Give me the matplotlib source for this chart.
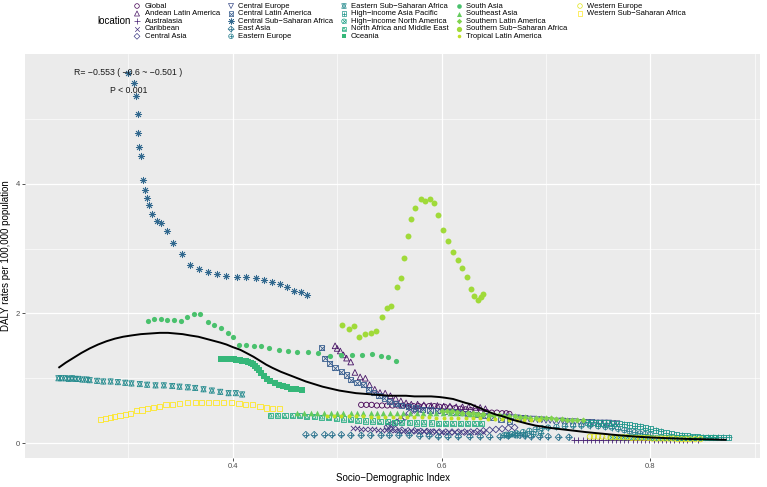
import matplotlib
matplotlib.use('Agg')
import matplotlib.pyplot as plt
import numpy as np

plt.rcParams['font.family'] = ['Liberation Sans', 'DejaVu Sans']

# ---- data ----
locations = ['Global', 'Andean Latin America', 'Australasia', 'Caribbean', 'Central Asia',
             'Central Europe', 'Central Latin America', 'Central Sub\u2212Saharan Africa', 'East Asia',
             'Eastern Europe', 'Eastern Sub\u2212Saharan Africa', 'High\u2212income Asia Pacific',
             'High\u2212income North America', 'North Africa and Middle East', 'Oceania', 'South Asia',
             'Southeast Asia', 'Southern Latin America', 'Southern Sub\u2212Saharan Africa',
             'Tropical Latin America', 'Western Europe', 'Western Sub\u2212Saharan Africa']

global_x = [0.523, 0.528, 0.533, 0.538, 0.543, 0.548, 0.553, 0.558, 0.563, 0.568, 0.573, 0.578, 0.583, 0.588, 0.593,
            0.598, 0.603, 0.608, 0.613, 0.618, 0.623, 0.628, 0.633, 0.638, 0.643, 0.648, 0.653, 0.658, 0.662, 0.665]
global_y = [0.59, 0.59, 0.59, 0.58, 0.58, 0.58, 0.58, 0.58, 0.58, 0.57, 0.57, 0.57, 0.57, 0.57, 0.57,
            0.56, 0.56, 0.55, 0.54, 0.53, 0.52, 0.51, 0.50, 0.49, 0.48, 0.47, 0.47, 0.46, 0.46, 0.45]

andean_x = [0.498, 0.500, 0.503, 0.506, 0.509, 0.513, 0.517, 0.522, 0.527, 0.531, 0.536, 0.541, 0.546, 0.551, 0.556,
            0.561, 0.566, 0.571, 0.577, 0.583, 0.590, 0.596, 0.602, 0.608, 0.614, 0.620, 0.626, 0.632, 0.637, 0.642]
andean_y = [1.50, 1.46, 1.42, 1.36, 1.31, 1.25, 1.09, 1.02, 1.00, 0.90, 0.83, 0.78, 0.77, 0.73, 0.69,
            0.65, 0.62, 0.60, 0.60, 0.59, 0.58, 0.58, 0.57, 0.57, 0.56, 0.56, 0.56, 0.55, 0.55, 0.53]

australasia_x = [0.727, 0.731, 0.735, 0.739, 0.743, 0.747, 0.751, 0.755, 0.759, 0.763, 0.767, 0.771, 0.775, 0.779, 0.783,
                 0.787, 0.791, 0.795, 0.799, 0.803, 0.807, 0.811, 0.815, 0.819, 0.823, 0.827, 0.831, 0.835, 0.840, 0.846]
australasia_y = [0.05, 0.05, 0.05, 0.05, 0.05, 0.05, 0.05, 0.05, 0.05, 0.05, 0.05, 0.05, 0.05, 0.05, 0.05,
                 0.04, 0.04, 0.04, 0.04, 0.04, 0.04, 0.04, 0.04, 0.04, 0.04, 0.04, 0.04, 0.04, 0.04, 0.04]

caribbean_x = [0.515, 0.519, 0.523, 0.527, 0.531, 0.535, 0.539, 0.543, 0.547, 0.551, 0.555, 0.559, 0.563, 0.567, 0.571,
               0.575, 0.579, 0.583, 0.587, 0.591, 0.595, 0.599, 0.603, 0.607, 0.612, 0.617, 0.622, 0.628, 0.634, 0.640]
caribbean_y = [0.24, 0.23, 0.22, 0.22, 0.21, 0.21, 0.20, 0.20, 0.20, 0.20, 0.20, 0.19, 0.19, 0.19, 0.19,
               0.19, 0.18, 0.18, 0.18, 0.18, 0.18, 0.17, 0.17, 0.17, 0.17, 0.17, 0.17, 0.17, 0.17, 0.17]

central_asia_x = [0.578, 0.574, 0.569, 0.565, 0.561, 0.557, 0.553, 0.550, 0.548, 0.551, 0.556, 0.562, 0.568, 0.574, 0.580,
                  0.586, 0.592, 0.598, 0.604, 0.610, 0.616, 0.622, 0.628, 0.634, 0.640, 0.646, 0.652, 0.658, 0.664, 0.670]
central_asia_y = [0.52, 0.51, 0.46, 0.40, 0.36, 0.32, 0.29, 0.27, 0.25, 0.22, 0.21, 0.20, 0.19, 0.19, 0.18,
                  0.18, 0.17, 0.17, 0.17, 0.17, 0.17, 0.17, 0.17, 0.18, 0.19, 0.20, 0.21, 0.22, 0.23, 0.24]

central_europe_x = [0.660, 0.664, 0.668, 0.672, 0.676, 0.680, 0.684, 0.688, 0.692, 0.696, 0.700, 0.704, 0.708, 0.712,
                    0.716, 0.720, 0.724, 0.728, 0.732, 0.736, 0.740, 0.744, 0.748, 0.752, 0.756, 0.760, 0.764, 0.768]
central_europe_y = [0.40, 0.40, 0.39, 0.39, 0.38, 0.38, 0.37, 0.37, 0.36, 0.36, 0.35, 0.35, 0.34, 0.34,
                    0.34, 0.33, 0.33, 0.33, 0.32, 0.32, 0.32, 0.32, 0.31, 0.31, 0.31, 0.31, 0.30, 0.30]

central_la_x = [0.485, 0.488, 0.493, 0.498, 0.504, 0.509, 0.513, 0.519, 0.525, 0.530, 0.535, 0.540, 0.545, 0.550, 0.556,
                0.562, 0.568, 0.575, 0.582, 0.589, 0.596, 0.603, 0.610, 0.617, 0.625, 0.633, 0.641, 0.649, 0.657, 0.665]
central_la_y = [1.47, 1.31, 1.23, 1.16, 1.10, 1.05, 0.98, 0.93, 0.90, 0.83, 0.78, 0.73, 0.69, 0.64, 0.61,
                0.58, 0.56, 0.54, 0.52, 0.51, 0.50, 0.49, 0.48, 0.47, 0.46, 0.44, 0.42, 0.40, 0.37, 0.34]

central_ssa_x = [0.300, 0.305, 0.307, 0.309, 0.309, 0.310, 0.312, 0.314, 0.316, 0.318, 0.320, 0.323, 0.327, 0.331, 0.337,
                 0.343, 0.351, 0.359, 0.368, 0.376, 0.385, 0.394, 0.404, 0.413, 0.422, 0.430, 0.438, 0.445, 0.452, 0.459,
                 0.465, 0.471]
central_ssa_y = [5.71, 5.56, 5.36, 5.07, 4.78, 4.56, 4.42, 4.06, 3.91, 3.78, 3.67, 3.54, 3.43, 3.39, 3.27,
                 3.09, 2.92, 2.75, 2.69, 2.64, 2.60, 2.58, 2.56, 2.56, 2.55, 2.51, 2.48, 2.45, 2.40, 2.35,
                 2.33, 2.29]

east_asia_x = [0.470, 0.478, 0.488, 0.495, 0.504, 0.513, 0.523, 0.532, 0.542, 0.550, 0.559, 0.569, 0.579, 0.588, 0.597,
               0.606, 0.616, 0.627, 0.637, 0.646, 0.656, 0.664, 0.670, 0.675, 0.680, 0.686, 0.694, 0.702, 0.712, 0.722]
east_asia_y = [0.13, 0.13, 0.13, 0.13, 0.13, 0.12, 0.12, 0.12, 0.12, 0.12, 0.12, 0.12, 0.11, 0.11, 0.10,
               0.10, 0.10, 0.10, 0.10, 0.10, 0.10, 0.11, 0.13, 0.12, 0.11, 0.10, 0.10, 0.10, 0.09, 0.09]

eastern_europe_x = [0.695, 0.688, 0.680, 0.672, 0.665, 0.660, 0.662, 0.667, 0.672, 0.678, 0.684, 0.690, 0.696, 0.702,
                    0.710, 0.718, 0.726, 0.734, 0.742, 0.750, 0.757, 0.763, 0.769, 0.775, 0.780, 0.785, 0.790, 0.795,
                    0.800]
eastern_europe_y = [0.15, 0.14, 0.13, 0.12, 0.12, 0.12, 0.13, 0.14, 0.15, 0.17, 0.19, 0.21, 0.23, 0.24,
                    0.25, 0.26, 0.27, 0.27, 0.27, 0.26, 0.25, 0.24, 0.22, 0.20, 0.18, 0.17, 0.15, 0.14,
                    0.13]

eastern_ssa_x = [0.233, 0.236, 0.240, 0.243, 0.246, 0.249, 0.252, 0.256, 0.260, 0.263, 0.270, 0.276, 0.283, 0.290, 0.297,
                 0.303, 0.311, 0.318, 0.326, 0.334, 0.342, 0.349, 0.357, 0.364, 0.372, 0.380, 0.388, 0.396, 0.403, 0.409]
eastern_ssa_y = [1.00, 1.00, 1.00, 0.99, 1.00, 0.99, 0.99, 0.98, 0.98, 0.97, 0.96, 0.95, 0.95, 0.94, 0.93,
                 0.92, 0.91, 0.90, 0.89, 0.89, 0.88, 0.87, 0.86, 0.85, 0.83, 0.81, 0.79, 0.77, 0.77, 0.75]

hi_asia_pacific_x = [0.740, 0.745, 0.750, 0.755, 0.760, 0.765, 0.770, 0.775, 0.780, 0.785, 0.790, 0.795, 0.800, 0.805,
                     0.810, 0.815, 0.820, 0.825, 0.830, 0.835, 0.840, 0.845, 0.850, 0.855, 0.860, 0.865, 0.870, 0.875]
hi_asia_pacific_y = [0.32, 0.32, 0.31, 0.31, 0.31, 0.30, 0.30, 0.29, 0.28, 0.27, 0.26, 0.24, 0.22, 0.20,
                     0.18, 0.16, 0.14, 0.13, 0.12, 0.11, 0.10, 0.10, 0.09, 0.09, 0.09, 0.09, 0.09, 0.09]

hi_north_america_x = [0.762, 0.766, 0.770, 0.774, 0.778, 0.782, 0.786, 0.790, 0.794, 0.798, 0.802, 0.806, 0.810,
                      0.814, 0.818, 0.822, 0.826, 0.830, 0.834, 0.838, 0.842, 0.846, 0.850, 0.854, 0.858, 0.862]
hi_north_america_y = [0.09, 0.09, 0.09, 0.09, 0.09, 0.09, 0.09, 0.09, 0.09, 0.09, 0.08, 0.08, 0.08,
                      0.08, 0.08, 0.08, 0.08, 0.08, 0.08, 0.08, 0.08, 0.08, 0.08, 0.08, 0.08, 0.08]

name_x = [0.436, 0.443, 0.450, 0.457, 0.464, 0.471, 0.478, 0.485, 0.492, 0.499, 0.506, 0.513, 0.520, 0.527, 0.534,
          0.541, 0.548, 0.555, 0.562, 0.569, 0.576, 0.583, 0.590, 0.597, 0.604, 0.611, 0.618, 0.625, 0.632, 0.638]
name_y = [0.43, 0.43, 0.42, 0.42, 0.42, 0.41, 0.41, 0.40, 0.39, 0.38, 0.37, 0.36, 0.35, 0.34, 0.34,
          0.33, 0.33, 0.32, 0.32, 0.32, 0.31, 0.31, 0.31, 0.30, 0.30, 0.30, 0.30, 0.30, 0.30, 0.30]

oceania_x = [0.389, 0.391, 0.393, 0.395, 0.397, 0.399, 0.401, 0.403, 0.405, 0.407, 0.409, 0.411, 0.413, 0.415, 0.417,
             0.419, 0.421, 0.423, 0.425, 0.427, 0.430, 0.433, 0.436, 0.440, 0.444, 0.448, 0.452, 0.456, 0.461, 0.466]
oceania_y = [1.30, 1.30, 1.30, 1.30, 1.29, 1.29, 1.29, 1.28, 1.28, 1.28, 1.27, 1.27, 1.26, 1.25, 1.24,
             1.22, 1.19, 1.16, 1.12, 1.08, 1.03, 0.99, 0.95, 0.92, 0.90, 0.88, 0.86, 0.84, 0.83, 0.82]

south_asia_x = [0.319, 0.325, 0.331, 0.337, 0.344, 0.350, 0.356, 0.363, 0.369, 0.376, 0.382, 0.389, 0.395, 0.400,
                0.406, 0.413, 0.420, 0.427, 0.435, 0.444, 0.453, 0.462, 0.472, 0.482, 0.493, 0.504, 0.514, 0.524,
                0.533, 0.542, 0.549, 0.556]
south_asia_y = [1.88, 1.91, 1.92, 1.90, 1.90, 1.89, 1.94, 1.99, 1.99, 1.87, 1.82, 1.77, 1.70, 1.63,
                1.51, 1.51, 1.50, 1.49, 1.46, 1.44, 1.42, 1.41, 1.40, 1.39, 1.35, 1.36, 1.36, 1.36,
                1.37, 1.34, 1.32, 1.27]

southeast_asia_x = [0.462, 0.468, 0.475, 0.481, 0.487, 0.494, 0.500, 0.506, 0.513, 0.519, 0.525, 0.532, 0.538, 0.544,
                    0.551, 0.557, 0.563, 0.570, 0.576, 0.582, 0.589, 0.595, 0.601, 0.608, 0.614, 0.620, 0.627, 0.633,
                    0.639, 0.645]
southeast_asia_y = [0.46, 0.46, 0.46, 0.47, 0.47, 0.46, 0.47, 0.47, 0.47, 0.47, 0.46, 0.47, 0.47, 0.47,
                    0.47, 0.47, 0.46, 0.46, 0.47, 0.47, 0.47, 0.46, 0.46, 0.46, 0.46, 0.46, 0.45, 0.45,
                    0.45, 0.45]

southern_la_x = [0.600, 0.605, 0.610, 0.615, 0.620, 0.625, 0.630, 0.635, 0.640, 0.645, 0.650, 0.655, 0.660, 0.665,
                 0.670, 0.675, 0.680, 0.685, 0.690, 0.695, 0.700, 0.705, 0.710, 0.715, 0.720, 0.725, 0.730, 0.735]
southern_la_y = [0.50, 0.49, 0.49, 0.48, 0.47, 0.47, 0.46, 0.45, 0.45, 0.44, 0.43, 0.43, 0.42, 0.41,
                 0.41, 0.40, 0.40, 0.39, 0.39, 0.38, 0.38, 0.38, 0.37, 0.37, 0.36, 0.36, 0.36, 0.35]

southern_ssa_x = [0.505, 0.511, 0.516, 0.521, 0.527, 0.532, 0.537, 0.543, 0.548, 0.552, 0.557, 0.561, 0.564, 0.568,
                  0.571, 0.575, 0.580, 0.584, 0.589, 0.593, 0.597, 0.601, 0.606, 0.611, 0.616, 0.620, 0.624, 0.628,
                  0.631, 0.635, 0.638, 0.640]
southern_ssa_y = [1.82, 1.76, 1.80, 1.64, 1.68, 1.70, 1.73, 1.94, 2.09, 2.12, 2.40, 2.55, 2.86, 3.20,
                  3.45, 3.63, 3.77, 3.74, 3.77, 3.71, 3.52, 3.28, 3.12, 2.95, 2.82, 2.70, 2.56, 2.37,
                  2.27, 2.21, 2.25, 2.30]

tropical_la_x = [0.490, 0.497, 0.504, 0.511, 0.518, 0.525, 0.532, 0.539, 0.546, 0.553, 0.560, 0.567, 0.574, 0.581,
                 0.588, 0.595, 0.602, 0.609, 0.616, 0.623, 0.630, 0.637, 0.644, 0.651, 0.658, 0.665, 0.672, 0.679,
                 0.686, 0.693]
tropical_la_y = [0.42, 0.42, 0.41, 0.41, 0.41, 0.41, 0.40, 0.40, 0.40, 0.40, 0.40, 0.40, 0.40, 0.40,
                 0.40, 0.39, 0.39, 0.39, 0.39, 0.38, 0.38, 0.38, 0.37, 0.37, 0.37, 0.36, 0.36, 0.36,
                 0.35, 0.35]

western_europe_x = [0.742, 0.746, 0.750, 0.754, 0.758, 0.762, 0.766, 0.770, 0.774, 0.778, 0.782, 0.786, 0.790, 0.794,
                    0.798, 0.802, 0.806, 0.810, 0.814, 0.818, 0.822, 0.826, 0.830, 0.834, 0.838, 0.843, 0.848]
western_europe_y = [0.10, 0.10, 0.10, 0.10, 0.10, 0.09, 0.09, 0.09, 0.09, 0.09, 0.08, 0.08, 0.08, 0.08,
                    0.08, 0.07, 0.07, 0.07, 0.07, 0.07, 0.07, 0.06, 0.06, 0.06, 0.06, 0.06, 0.06]

western_ssa_x = [0.273, 0.278, 0.283, 0.287, 0.292, 0.297, 0.302, 0.308, 0.313, 0.318, 0.324, 0.330, 0.336, 0.342,
                 0.349, 0.357, 0.364, 0.370, 0.377, 0.384, 0.391, 0.399, 0.406, 0.412, 0.419, 0.426, 0.432, 0.438,
                 0.445]
western_ssa_y = [0.36, 0.38, 0.39, 0.41, 0.43, 0.44, 0.46, 0.50, 0.51, 0.53, 0.55, 0.57, 0.59, 0.60,
                 0.61, 0.62, 0.63, 0.62, 0.63, 0.63, 0.63, 0.63, 0.61, 0.60, 0.59, 0.56, 0.54, 0.53,
                 0.53]

# smoothed fit line
fit_x = [0.233, 0.240, 0.248, 0.255, 0.263, 0.271, 0.279, 0.287, 0.295, 0.303, 0.312, 0.321, 0.330, 0.338, 0.345,
         0.352, 0.359, 0.367, 0.374, 0.381, 0.388, 0.394, 0.400, 0.407, 0.413, 0.420, 0.426, 0.432, 0.438, 0.446,
         0.454, 0.462, 0.470, 0.478, 0.486, 0.494, 0.502, 0.510, 0.518, 0.526, 0.534, 0.542, 0.550, 0.558, 0.566,
         0.574, 0.582, 0.590, 0.598, 0.603, 0.607, 0.611, 0.615, 0.619, 0.623, 0.628, 0.632, 0.637, 0.642, 0.647,
         0.652, 0.657, 0.661, 0.668, 0.675, 0.682, 0.690, 0.698, 0.706, 0.714, 0.722, 0.730, 0.738, 0.746, 0.754,
         0.762, 0.770, 0.778, 0.786, 0.794, 0.802, 0.810, 0.817, 0.825, 0.833, 0.841, 0.849, 0.855, 0.861, 0.867,
         0.873]
fit_y = [1.16, 1.24, 1.32, 1.39, 1.46, 1.52, 1.57, 1.61, 1.64, 1.66, 1.68, 1.69, 1.70, 1.70, 1.69,
         1.68, 1.66, 1.64, 1.61, 1.58, 1.55, 1.52, 1.48, 1.44, 1.39, 1.33, 1.27, 1.21, 1.16, 1.10,
         1.05, 1.00, 0.95, 0.91, 0.87, 0.84, 0.81, 0.79, 0.77, 0.76, 0.75, 0.74, 0.73, 0.73, 0.73,
         0.72, 0.72, 0.72, 0.71, 0.70, 0.69, 0.68, 0.66, 0.64, 0.62, 0.60, 0.57, 0.54, 0.50, 0.47,
         0.44, 0.42, 0.40, 0.36, 0.33, 0.30, 0.27, 0.25, 0.23, 0.215, 0.20, 0.185, 0.17, 0.157, 0.145,
         0.132, 0.12, 0.11, 0.10, 0.092, 0.085, 0.08, 0.075, 0.07, 0.065, 0.062, 0.06, 0.057, 0.055, 0.052,
         0.05]

series_x = [global_x, andean_x, australasia_x, caribbean_x, central_asia_x, central_europe_x, central_la_x,
            central_ssa_x, east_asia_x, eastern_europe_x, eastern_ssa_x, hi_asia_pacific_x, hi_north_america_x,
            name_x, oceania_x, south_asia_x, southeast_asia_x, southern_la_x, southern_ssa_x, tropical_la_x,
            western_europe_x, western_ssa_x]
series_y = [global_y, andean_y, australasia_y, caribbean_y, central_asia_y, central_europe_y, central_la_y,
            central_ssa_y, east_asia_y, eastern_europe_y, eastern_ssa_y, hi_asia_pacific_y, hi_north_america_y,
            name_y, oceania_y, south_asia_y, southeast_asia_y, southern_la_y, southern_ssa_y, tropical_la_y,
            western_europe_y, western_ssa_y]

# ---- styling ----
colors = plt.cm.viridis(np.linspace(0, 1, len(locations)))

# ggplot shapes 1..22 rebuilt from matplotlib markers (marker, filled, size factor)
shape_layers = {
    1: [('o', False, 1.0)],
    2: [('^', False, 1.2)],
    3: [('+', None, 1.4)],
    4: [('x', None, 1.0)],
    5: [('D', False, 0.8)],
    6: [('v', False, 1.2)],
    7: [('s', False, 1.0), ('x', None, 0.9)],
    8: [((8, 2, 0), None, 1.5)],
    9: [('D', False, 0.8), ('+', None, 1.2)],
    10: [('o', False, 1.0), ('+', None, 1.1)],
    11: [('^', False, 1.0), ('v', False, 1.0)],
    12: [('s', False, 1.0), ('+', None, 1.1)],
    13: [('o', False, 1.0), ('x', None, 0.8)],
    14: [('s', False, 1.0), ('^', False, 0.5)],
    15: [('s', True, 1.0)],
    16: [('o', True, 1.0)],
    17: [('^', True, 1.2)],
    18: [('D', True, 0.7)],
    19: [('o', True, 1.3)],
    20: [('o', True, 0.6)],
    21: [('o', False, 1.0)],
    22: [('s', False, 1.0)],
}


def draw_points(axis, x, y, shape, col, base, lw=0.6):
    for m, filled, k in shape_layers[shape]:
        if filled is None:
            axis.scatter(x, y, marker=m, s=base * k, color=col, linewidths=lw)
        elif filled:
            axis.scatter(x, y, marker=m, s=base * k, color=col, linewidths=0)
        else:
            axis.scatter(x, y, marker=m, s=base * k, facecolors='none', edgecolors=col, linewidths=lw)


fig = plt.figure(figsize=(7.67, 4.87), dpi=100)
ax = fig.add_axes([25 / 767, 1 - 458 / 487, 735 / 767, 404 / 487])
ax.set_facecolor('#EBEBEB')
for s in ax.spines.values():
    s.set_visible(False)

ax.set_xlim(0.201, 0.905)
ax.set_ylim(-0.23, 6.0)
ax.set_xticks([0.4, 0.6, 0.8])
ax.set_xticklabels(['0.4', '0.6', '0.8'])
ax.set_yticks([0, 2, 4])
ax.set_yticklabels(['0', '2', '4'])
ax.set_xticks([0.3, 0.5, 0.7, 0.9], minor=True)
ax.set_yticks([1, 3, 5], minor=True)
ax.grid(which='major', color='white', linewidth=0.9)
ax.grid(which='minor', color='white', linewidth=0.45)
ax.set_axisbelow(True)
ax.tick_params(which='major', length=2.2, width=0.6, color='#333333', labelsize=5.5,
               labelcolor='#4D4D4D', pad=1.5)
ax.tick_params(which='minor', length=0)

for i in range(len(locations)):
    draw_points(ax, series_x[i], series_y[i], i + 1, colors[i], 14)

ax.plot(fit_x, fit_y, color='black', linewidth=1.4, zorder=5, solid_capstyle='butt')

ax.text(0.300, 5.71, 'R= \u22120.553 ( \u22120.6 ~ \u22120.501 )', ha='center', va='center', fontsize=6.3,
        color='#1A1A1A', zorder=6)
ax.text(0.300, 5.43, 'P < 0.001', ha='center', va='center', fontsize=6.3, color='#1A1A1A', zorder=6)

ax.set_xlabel('Socio\u2212Demographic Index', fontsize=7, labelpad=2)
ax.set_ylabel('DALY rates per 100,000 population', fontsize=7, labelpad=3)

# ---- legend on top (pixel coordinates overlay) ----
lax = fig.add_axes([0, 0, 1, 1], zorder=10)
lax.set_xlim(0, 767)
lax.set_ylim(487, 0)
lax.axis('off')
lax.patch.set_alpha(0)

lax.text(97, 21.5, 'location', ha='left', va='center', fontsize=7)
col_marker_x = [137, 231, 344, 459, 580]
col_text_x = [145, 238, 351, 466, 587]
row_y = [6, 13.5, 21.3, 29, 36.3]
for i, name in enumerate(locations):
    c, r = divmod(i, 5)
    draw_points(lax, [col_marker_x[c]], [row_y[r]], i + 1, colors[i], 11, lw=0.5)
    lax.text(col_text_x[c], row_y[r], name, ha='left', va='center', fontsize=5.5)

fig.savefig('out.png', dpi=100)
